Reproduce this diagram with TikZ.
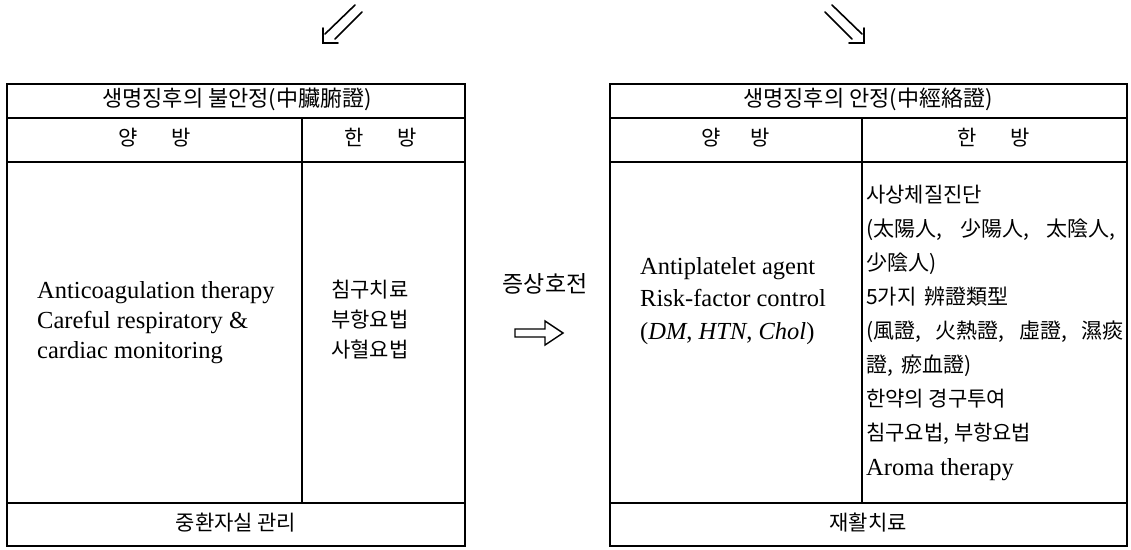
\documentclass[tikz,border=0pt]{standalone}
\usepackage{fontspec}
\setmainfont{Liberation Serif}
\newfontfamily\kr{Noto Sans CJK KR}
\begin{document}
\begin{tikzpicture}[x=1pt,y=-1pt,
  frame/.style={line width=1.3pt},
  lat/.style={font=\fontsize{24.5}{28}\selectfont, inner sep=0pt, text height=17pt, text depth=5pt},
  kor/.style={font=\kr\fontsize{21}{25}\selectfont, inner sep=0pt, text height=16pt, text depth=5pt},
  kortitle/.style={kor, font=\kr\fontsize{22}{26}\selectfont},
  dbl/.style={line width=1.6pt, line cap=round}]
\useasboundingbox (0,0) rectangle (1131,549);

% ---------- top arrows ----------
\begin{scope}[shift={(323,43)}]
  \draw[dbl] (32,-38) -- (2,-9);
  \draw[dbl] (39,-31) -- (12,-4);
  \draw[dbl] (0,-15) -- (0,0) -- (15,0);
\end{scope}
\begin{scope}[shift={(864,43)}, xscale=-1]
  \draw[dbl] (32,-38) -- (2,-9);
  \draw[dbl] (39,-31) -- (12,-4);
  \draw[dbl] (0,-15) -- (0,0) -- (15,0);
\end{scope}

% ---------- left table ----------
\draw[frame] (7,84) rectangle (465,546);
\draw[frame] (7,118) -- (465,118);
\draw[frame] (7,162) -- (465,162);
\draw[frame] (7,503) -- (465,503);
\draw[frame] (302,118) -- (302,503);

\node[kortitle] (ltitle) at (237,101) {생명징후의 불안정(中臟腑證)};
\node[kor] (lyang) at (155,140) {양\hspace{1.6em}방};
\node[kor] (lhan) at (381,140) {한\hspace{1.6em}방};
\node[lat, anchor=west] (la) at (37,292) {Anticoagulation therapy};
\node[lat, anchor=west] (lb) at (37,322) {Careful respiratory \&};
\node[lat, anchor=west] (lc) at (37,352) {cardiac monitoring};
\node[kor, anchor=west] (ka) at (331,292) {침구치료};
\node[kor, anchor=west] (kb) at (331,322) {부항요법};
\node[kor, anchor=west] (kc) at (331,352) {사혈요법};
\node[kor] (lfoot) at (236,525) {중환자실 관리};

% ---------- middle ----------
\node[kor, font=\kr\fontsize{23}{27}\selectfont] (mid) at (545,287) {증상호전};
\draw[line width=1.4pt, line join=miter]
  (515,329) -- (545,329) -- (545,321) -- (563,333) -- (545,345) -- (545,337) -- (515,337) -- cycle;

% ---------- right table ----------
\draw[frame] (610,84) rectangle (1127,546);
\draw[frame] (610,118) -- (1127,118);
\draw[frame] (610,162) -- (1127,162);
\draw[frame] (610,503) -- (1127,503);
\draw[frame] (862,118) -- (862,503);

\node[kortitle] (rtitle) at (868,101) {생명징후의 안정(中經絡證)};
\node[kor] (ryang) at (736,140) {양\hspace{1.4em}방};
\node[kor] (rhan) at (994,140) {한\hspace{1.6em}방};
\node[lat, anchor=west] (ra) at (640,268) {Antiplatelet agent};
\node[lat, anchor=west] (rb) at (640,300) {Risk-factor control};
\node[lat, anchor=west] (rc) at (640,333) {(\textit{DM}, \textit{HTN}, \textit{Chol})};

\node[kor, anchor=west] (r1) at (866,197) {사상체질진단};
\node[kor, anchor=west] (r2) at (866,231) {(太陽人,\hspace{0.85em}少陽人,\hspace{0.85em}太陰人,};
\node[kor, anchor=west] (r3) at (866,265) {少陰人)};
\node[kor, anchor=west] (r4) at (866,299) {5가지\hspace{0.4em}辨證類型};
\node[kor, anchor=west] (r5) at (866,333) {(風證,\hspace{0.7em}火熱證,\hspace{0.7em}虛證,\hspace{0.7em}濕痰};
\node[kor, anchor=west] (r6) at (866,367) {證,\hspace{0.4em}瘀血證)};
\node[kor, anchor=west] (r7) at (866,401) {한약의 경구투여};
\node[kor, anchor=west] (r8) at (866,435) {침구요법, 부항요법};
\node[lat, anchor=west] (r9) at (866,469) {Aroma therapy};
\node[kor] (rfoot) at (868,525) {재활치료};
\end{tikzpicture}
\end{document}
